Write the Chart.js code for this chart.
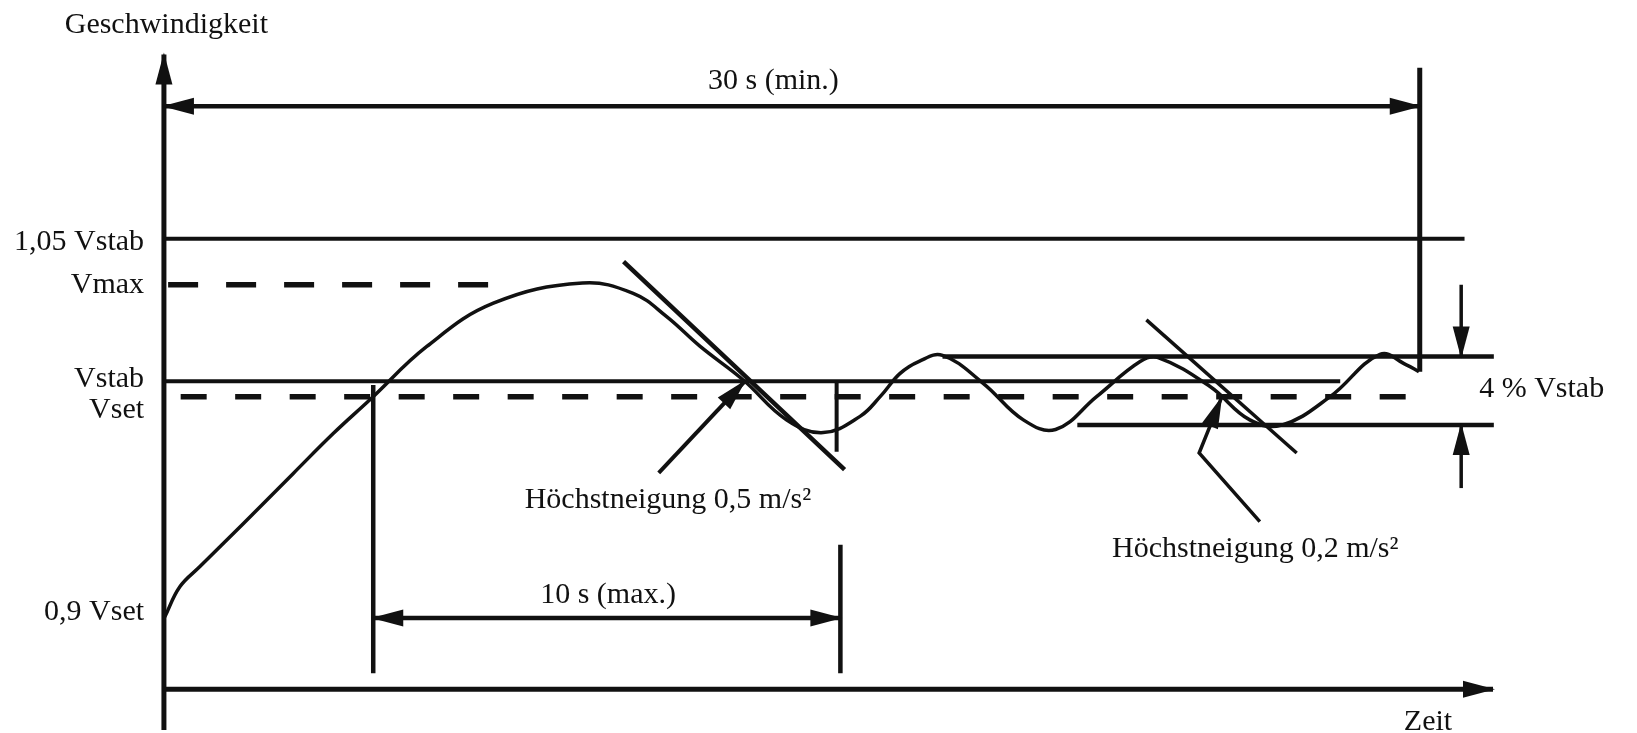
<!DOCTYPE html>
<html>
<head>
<meta charset="utf-8">
<script src="https://cdn.jsdelivr.net/npm/chart.js@4.4.1/dist/chart.umd.min.js"></script>
<style>
  html, body { margin: 0; padding: 0; background: #fff; }
  #chart { display: block; }
</style>
</head>
<body>
<canvas id="chart" width="1637" height="733"></canvas>
<script>
// speed curve (time in s, speed relative to Vset)
const curveTime = [0.02, 0.38, 0.86, 1.90, 3.09, 4.05, 4.92, 6.28, 7.87, 10.0, 11.21, 12.01, 12.81, 13.84,
  14.87, 15.75, 16.63, 17.11, 17.58, 18.03, 18.60, 19.57, 20.53, 21.30, 22.28, 23.32, 23.75, 24.99,
  25.94, 26.70, 27.86, 29.05, 29.68, 29.98];
const curveSpeed = [0.8995, 0.9133, 0.9225, 0.9422, 0.9650, 0.9833, 0.9986, 1.0229, 1.0426, 1.0518, 1.0471,
  1.0365, 1.0229, 1.0076, 0.9895, 0.9836, 0.9910, 1.0000, 1.0105, 1.0160, 1.0188, 1.0061, 0.9894,
  0.9850, 1.0000, 1.0160, 1.0178, 1.0046, 0.9894, 0.9870, 1.0000, 1.0193, 1.0145, 1.0114];

// reference levels on the speed axis and how far their lines run
const levelNames = ['1,05 Vstab', 'Vmax', 'Vstab', 'Vset', '0,9 Vset'];
const levelValues = [1.072, 1.051, 1.007, 1.0, 0.9];
const levelStart = [0, 0.1, 0, 0.4, null];
const levelEnd = [31.07, 7.85, 28.1, 29.78, null];
const levelDash = [null, [30, 28], null, [26, 28.5], null];

// tolerance band (4 % Vstab)
const bandValues = [1.0183, 0.9871];
const bandStart = [18.6, 21.82];
const bandEnd = 31.77;

// time marks: start and end of the 10 s window, end of the 30 s window
const markTimes = [5.0, 16.16, 30.0];

// tangents at the steepest points (max slope 0,5 and 0,2 m/s²)
const tangentTime = [[10.98, 16.26], [23.47, 27.06]];
const tangentSpeed = [[1.0616, 0.9667], [1.035, 0.9743]];

const ink = '#111';

function seg(points, width, extra) {
  return Object.assign({
    data: points,
    borderColor: ink,
    borderWidth: width,
    pointRadius: 0,
    tension: 0,
    fill: false,
  }, extra || {});
}

const datasets = [];

// axes
datasets.push(seg([{ x: 0, y: 0.848 }, { x: 0, y: 1.156 }], 5, { arrows: ['end'] }));
datasets.push(seg([{ x: 0, y: 0.8665 }, { x: 31.75, y: 0.8665 }], 5, { arrows: ['end'] }));

// level lines
levelValues.forEach((v, i) => {
  if (levelStart[i] === null) return;
  const dash = levelDash[i];
  datasets.push(seg([{ x: levelStart[i], y: v }, { x: levelEnd[i], y: v }],
    dash ? 5.5 : 4, dash ? { borderDash: dash } : {}));
});

// band lines
bandValues.forEach((v, i) => {
  datasets.push(seg([{ x: bandStart[i], y: v }, { x: bandEnd, y: v }], 4.5));
});

// vertical marks
datasets.push(seg([{ x: markTimes[0], y: 1.0053 }, { x: markTimes[0], y: 0.8738 }], 4.5));
datasets.push(seg([{ x: markTimes[1], y: 0.9324 }, { x: markTimes[1], y: 0.8738 }], 4.5));
datasets.push(seg([{ x: 16.07, y: 1.0069 }, { x: 16.07, y: 0.9749 }], 4));
datasets.push(seg([{ x: markTimes[2], y: 1.150 }, { x: markTimes[2], y: 1.0114 }], 5));

// dimension arrows
datasets.push(seg([{ x: 0, y: 1.1324 }, { x: markTimes[2], y: 1.1324 }], 4.5, { arrows: ['start', 'end'] }));
datasets.push(seg([{ x: markTimes[0], y: 0.899 }, { x: markTimes[1], y: 0.899 }], 4.5, { arrows: ['start', 'end'] }));
datasets.push(seg([{ x: 30.99, y: 1.051 }, { x: 30.99, y: bandValues[0] }], 3.5, { arrows: ['end'] }));
datasets.push(seg([{ x: 30.99, y: 0.9583 }, { x: 30.99, y: bandValues[1] }], 3.5, { arrows: ['end'] }));

// tangents
tangentTime.forEach((t, i) => {
  datasets.push(seg([{ x: t[0], y: tangentSpeed[i][0] }, { x: t[1], y: tangentSpeed[i][1] }], i === 0 ? 4.5 : 3.5));
});

// pointers to the inflection points
datasets.push(seg([{ x: 11.82, y: 0.9652 }, { x: 13.87, y: 1.0069 }], 4, { arrows: ['end'] }));
datasets.push(seg([{ x: 26.18, y: 0.943 }, { x: 24.73, y: 0.9743 }, { x: 25.26, y: 0.9993 }], 3.5, { arrows: ['end'] }));

// the speed curve
datasets.push(seg(curveTime.map((t, i) => ({ x: t, y: curveSpeed[i] })), 3.5, {
  tension: 0.4,
}));

function head(ctx, from, to) {
  const len = 30, half = 8.5;
  const a = Math.atan2(to.y - from.y, to.x - from.x);
  const bx = to.x - len * Math.cos(a), by = to.y - len * Math.sin(a);
  ctx.beginPath();
  ctx.moveTo(to.x + 2 * Math.cos(a), to.y + 2 * Math.sin(a));
  ctx.lineTo(bx + half * Math.sin(a), by - half * Math.cos(a));
  ctx.lineTo(bx - half * Math.sin(a), by + half * Math.cos(a));
  ctx.closePath();
  ctx.fill();
}

const arrowPlugin = {
  id: 'arrows',
  afterDatasetsDraw(chart) {
    const ctx = chart.ctx;
    chart.data.datasets.forEach((ds, i) => {
      if (!ds.arrows) return;
      const pts = chart.getDatasetMeta(i).data;
      const n = pts.length;
      ctx.save();
      ctx.fillStyle = ds.borderColor;
      if (ds.arrows.includes('end')) head(ctx, pts[n - 2], pts[n - 1]);
      if (ds.arrows.includes('start')) head(ctx, pts[1], pts[0]);
      ctx.restore();
    });
  },
};

// text placed in data units: [text, time, speed (baseline), align]
const labelSpots = [
  ['Geschwindigkeit', -2.37, 1.1657, 'left'],
  ['30 s (min.)', 14.56, 1.1405, 'center'],
  [levelNames[0], -0.475, 1.0669, 'right'],
  [levelNames[1], -0.475, 1.0472, 'right'],
  [levelNames[2], -0.475, 1.0043, 'right'],
  [levelNames[3], -0.475, 0.9901, 'right'],
  [levelNames[4], -0.475, 0.8981, 'right'],
  ['Höchstneigung 0,5 m/s²', 12.04, 0.9490, 'center'],
  ['10 s (max.)', 10.61, 0.9059, 'center'],
  ['Höchstneigung 0,2 m/s²', 26.07, 0.9267, 'center'],
  ['4 % Vstab', 31.42, 1.0, 'left'],
  ['Zeit', 29.62, 0.8481, 'left'],
];

const textPlugin = {
  id: 'texts',
  afterDraw(chart) {
    const { ctx, scales } = chart;
    ctx.save();
    ctx.fillStyle = ink;
    ctx.font = '30px "Liberation Serif", serif';
    ctx.textBaseline = 'alphabetic';
    labelSpots.forEach(([txt, t, v, align]) => {
      ctx.textAlign = align;
      ctx.fillText(txt, scales.x.getPixelForValue(t), scales.y.getPixelForValue(v));
    });
    ctx.restore();
  },
};

new Chart(document.getElementById('chart'), {
  type: 'line',
  data: { datasets },
  options: {
    responsive: false,
    animation: false,
    layout: { padding: 0 },
    plugins: { legend: { display: false }, tooltip: { enabled: false } },
    scales: {
      x: { type: 'linear', min: -3.916, max: 35.19, display: false },
      y: { type: 'linear', min: 0.8466, max: 1.1809, display: false },
    },
  },
  plugins: [arrowPlugin, textPlugin],
});
</script>
</body>
</html>
